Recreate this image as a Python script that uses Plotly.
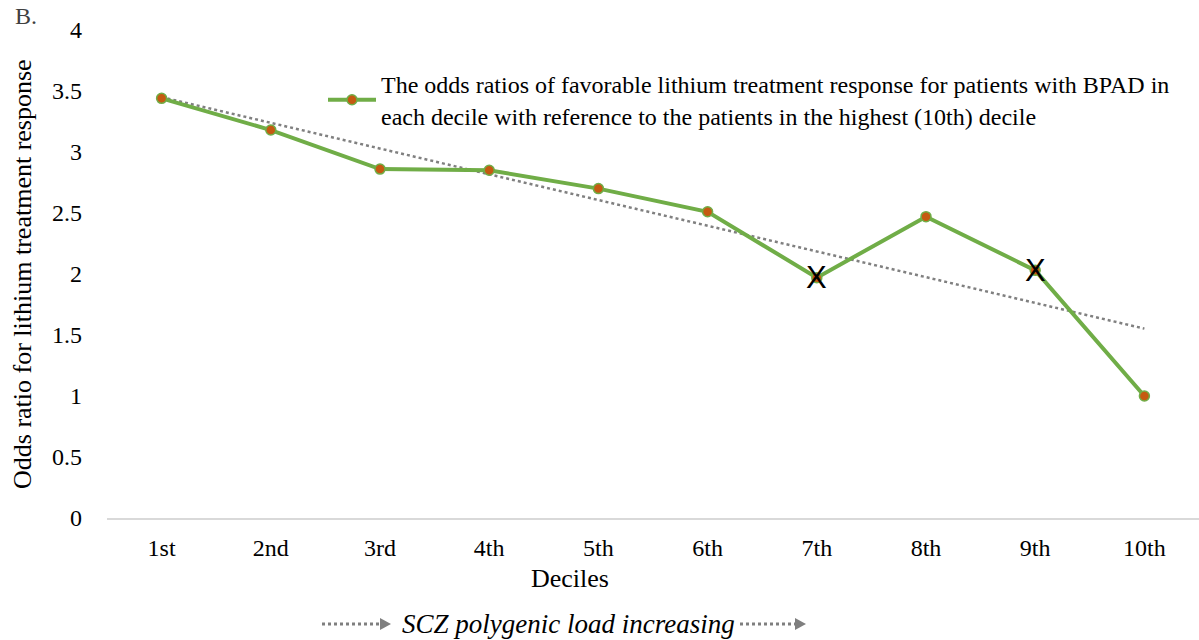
import numpy as np
import plotly.graph_objects as go

deciles = ["1st", "2nd", "3rd", "4th", "5th", "6th", "7th", "8th", "9th", "10th"]
odds_ratios = [3.44, 3.18, 2.86, 2.85, 2.70, 2.51, 1.97, 2.47, 2.03, 1.00]
flagged = ["7th", "9th"]
y_ticks = [0, 0.5, 1, 1.5, 2, 2.5, 3, 3.5, 4]
y_tick_text = ["0", "0.5", "1", "1.5", "2", "2.5", "3", "3.5", "4"]

legend_label = ("The odds ratios of favorable lithium treatment response for patients with BPAD in<br>"
                "each decile with reference to the patients in the highest (10th) decile")

# linear trendline computed from the data
xi = np.arange(1, len(odds_ratios) + 1)
slope, intercept = np.polyfit(xi, odds_ratios, 1)
trend = slope * xi + intercept

GREEN = "#70AD47"
ORANGE = "#C55A11"
SERIF = "Liberation Serif, Times New Roman, serif"

fig = go.Figure()
fig.add_trace(go.Scatter(
    x=deciles, y=trend, mode="lines", showlegend=False,
    line=dict(color="#808080", width=2.5, dash="dot"), hoverinfo="skip"))
fig.add_trace(go.Scatter(
    x=deciles, y=odds_ratios, mode="lines+markers", name=legend_label,
    line=dict(color=GREEN, width=4),
    marker=dict(size=10, color=ORANGE, line=dict(color=GREEN, width=1.5))))

# X marks on flagged deciles
for d in flagged:
    fig.add_annotation(x=d, y=odds_ratios[deciles.index(d)], text="X", showarrow=False,
                       font=dict(family="Liberation Sans, Arial, sans-serif", size=31, color="black"),
                       xanchor="center", yanchor="middle")

L, R, T, B = 107, 0, 30, 122
W, H = 1199, 640
pw, ph = W - L - R, H - T - B

def px_x(px):
    return (px - L) / pw

def px_y(py):
    return (H - B - py) / ph

fig.update_layout(
    width=W, height=H,
    margin=dict(l=L, r=R, t=T, b=B),
    paper_bgcolor="white", plot_bgcolor="white",
    font=dict(family=SERIF, size=24, color="black"),
    legend=dict(x=px_x(323), y=px_y(62), xanchor="left", yanchor="top",
                bgcolor="rgba(0,0,0,0)", font=dict(family=SERIF, size=24, color="black"),
                itemwidth=48, tracegroupgap=0),
    xaxis=dict(type="category", categoryorder="array", categoryarray=deciles,
               range=[-0.5, len(deciles) - 0.5], showgrid=False, zeroline=False,
               showline=True, linecolor="#D9D9D9", linewidth=1.5, ticks="",
               ticklabelstandoff=7, tickfont=dict(family=SERIF, size=24, color="black")),
    yaxis=dict(range=[0, 4], tickvals=y_ticks, ticktext=y_tick_text, showgrid=False,
               zeroline=False, showline=False, ticks="", ticklabelstandoff=24,
               tickfont=dict(family=SERIF, size=24, color="black")),
)

fig.add_annotation(xref="paper", yref="paper", x=px_x(22), y=0.5,
                   text="Odds ratio for lithium treatment response",
                   textangle=-90, showarrow=False, font=dict(family=SERIF, size=26, color="black"),
                   xanchor="center", yanchor="middle")
fig.add_annotation(xref="paper", yref="paper", x=px_x(570), y=px_y(578), text="Deciles",
                   showarrow=False, font=dict(family=SERIF, size=26, color="black"),
                   xanchor="center", yanchor="middle")
fig.add_annotation(xref="paper", yref="paper", x=px_x(26), y=px_y(16), text="B.",
                   showarrow=False, font=dict(family=SERIF, size=24, color="#404040"),
                   xanchor="center", yanchor="middle")
fig.add_annotation(xref="paper", yref="paper", x=px_x(568), y=px_y(624),
                   text="<i>SCZ polygenic load increasing</i>",
                   showarrow=False, font=dict(family=SERIF, size=27, color="black"),
                   xanchor="center", yanchor="middle")

# dotted arrows beside the bottom caption
for x0, x1 in [(322, 380), (740, 795)]:
    fig.add_shape(type="line", xref="paper", yref="paper",
                  x0=px_x(x0), x1=px_x(x1), y0=px_y(624), y1=px_y(624),
                  line=dict(color="#7F7F7F", width=3, dash="dot"))
    fig.add_shape(type="path", xref="paper", yref="paper",
                  path=f"M {px_x(x1)} {px_y(618)} L {px_x(x1 + 11)} {px_y(624)} L {px_x(x1)} {px_y(630)} Z",
                  fillcolor="#7F7F7F", line=dict(color="#7F7F7F", width=0))

fig.write_html("out.html", config={"displayModeBar": False},
               post_script="document.body.style.margin='0';")
